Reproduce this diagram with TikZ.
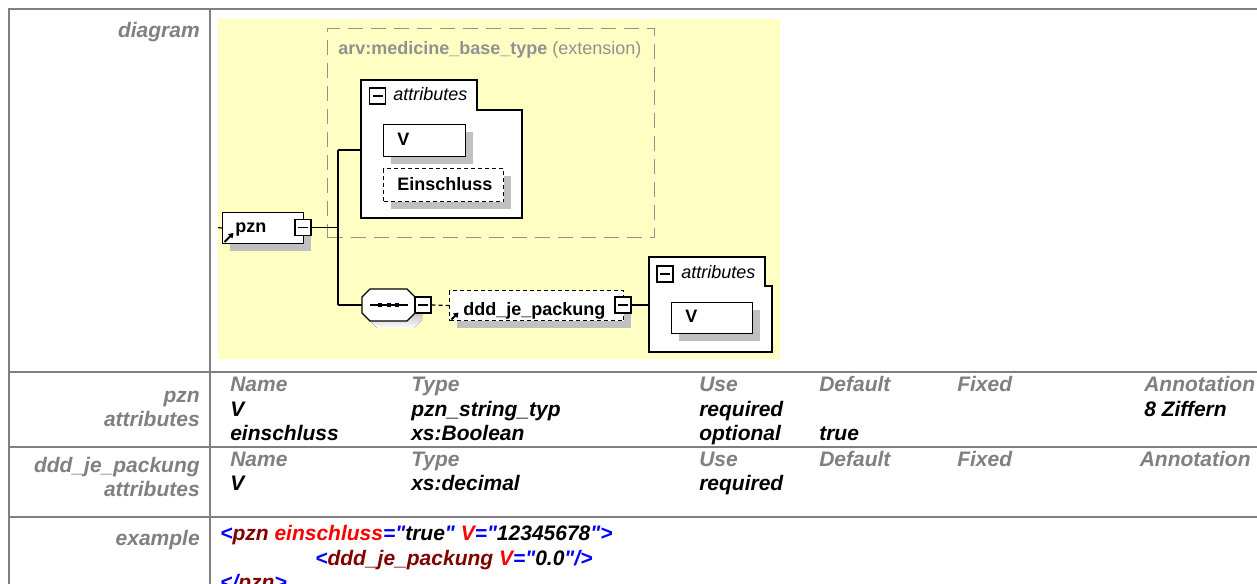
\documentclass[tikz,border=0pt]{standalone}
\usepackage{fontspec}
\setmainfont{Liberation Sans}[Ligatures=TeXOff]
\usetikzlibrary{shadows,arrows.meta}

\definecolor{rulegray}{RGB}{128,128,128}
\definecolor{headgray}{RGB}{128,128,128}
\definecolor{canvas}{RGB}{255,255,196}
\definecolor{shade}{RGB}{192,192,192}
\definecolor{extgray}{RGB}{145,145,145}
\definecolor{xmlbracket}{RGB}{0,0,255}
\definecolor{xmlelem}{RGB}{128,0,0}
\definecolor{xmlattr}{RGB}{255,0,0}

\newcommand{\xbr}[1]{\textcolor{xmlbracket}{#1}}
\newcommand{\xel}[1]{\textcolor{xmlelem}{#1}}
\newcommand{\xat}[1]{\textcolor{xmlattr}{#1}}

\begin{document}
\begin{tikzpicture}[x=0.75pt,y=-0.75pt,
  rowline/.style={draw=rulegray,line width=1.5pt},
  tfont/.style={font=\fontsize{15.75}{18}\selectfont\bfseries\itshape, inner sep=0},
  lbl/.style={tfont, text=headgray, anchor=base east},
  head/.style={tfont, text=headgray, anchor=base west},
  val/.style={tfont, text=black, anchor=base west},
  dtext/.style={font=\fontsize{13.5}{16}\selectfont, inner sep=0, anchor=base west},
  dname/.style={font=\fontsize{13.5}{16}\selectfont\bfseries, inner sep=0, anchor=base west},
  elem/.style={draw=black, line width=0.9pt, fill=white, inner sep=0, anchor=north west,
    general shadow={fill=shade, shadow xshift=7*.75pt, shadow yshift=-7*.75pt}},
  optelem/.style={elem, dash pattern=on 3pt off 2.25pt},
  attbox/.style={draw=black, line width=0.9pt, fill=white},
  tog/.style={draw=black, line width=0.9pt, fill=white, minimum size=16*.75pt, inner sep=0,
    path picture={\draw[line width=0.9pt] ([xshift=3*.75pt]path picture bounding box.west)
      -- ([xshift=-3*.75pt]path picture bounding box.east);}},
  conn/.style={draw=black, line width=0.9pt},
  refarrow/.style={line width=1.4pt, -{Triangle[length=3.5pt,width=4.5pt]}}
]
\path[use as bounding box] (0,0) rectangle (1257,584);
\clip (0,0) rectangle (1257,584);
\fill[white] (0,0) rectangle (1257,584);

% diagram canvas
\fill[canvas] (218,19) rectangle (780,359);

% table rules
\draw[rowline] (8,9) -- (1257,9);
\draw[rowline] (9,8) -- (9,584);
\draw[rowline] (210,8) -- (210,584);
\draw[rowline] (8,372) -- (1257,372);
\draw[rowline] (8,447) -- (1257,447);
\draw[rowline] (8,517) -- (1257,517);

% row labels
\node[lbl] (ldiagram) at (200,38) {diagram};
\node[lbl] (lpzn) at (200,403) {pzn};
\node[lbl] (lpznatt) at (200,427) {attributes};
\node[lbl] (lddd) at (200,473) {ddd\_je\_packung};
\node[lbl] (ldddatt) at (200,497) {attributes};
\node[lbl] (lexample) at (200,546) {example};

% extension group
\node[draw=extgray, line width=0.9pt, dash pattern=on 11.25pt off 6pt,
  minimum width=327*.75pt, minimum height=209*.75pt, anchor=north west, inner sep=0] (ext) at (327,28) {};
\node[dtext, text=extgray] (exttitle) at (338,55) {\bfseries arv:medicine\_base\_type\mdseries\ (extension)};

% attributes of the base type
\draw[attbox] (361,80) -- (477,80) -- (477,110) -- (522,110) -- (522,218) -- (361,218) -- cycle;
\node[inner sep=0, minimum width=161*.75pt, minimum height=140*.75pt, anchor=north west] (att1) at (361,80) {};
\node[tog] (att1t) at (377.5,96) {};
\node[dtext] (att1lbl) at (393,101) {\itshape attributes};
\node[elem, minimum width=82*.75pt, minimum height=32*.75pt] (v1) at (383,124) {};
\node[dname] (v1lbl) at (397,146) {V};
\node[optelem, minimum width=120*.75pt, minimum height=33*.75pt] (ein) at (383,168) {};
\node[dname] (einlbl) at (397,191) {Einschluss};

% pzn element
\coordinate (pznin) at (218,227.5);
\node[elem, minimum width=81*.75pt, minimum height=31*.75pt] (pzn) at (222,212) {};
\node[dname] (pznlbl) at (235,233) {pzn};
\draw[refarrow] (224.5,242) -- (233.5,233);
\node[tog] (pznt) at (303,227.5) {};
\draw[conn] (pznin) -- (pzn.west);

% sequence compositor (octagon with shadow)
\fill[shade] (369,304) -- (377,296) -- (414,296) -- (422,304) -- (422,320) -- (414,328) -- (377,328) -- (369,320) -- cycle;
\draw[line width=0.9pt, fill=white] (362,297) -- (370,289) -- (407,289) -- (415,297) -- (415,313) -- (407,321) -- (370,321) -- (362,313) -- cycle;
\node[inner sep=0, minimum width=53*.75pt, minimum height=32*.75pt] (seq) at (388.5,305) {};
\draw[line width=0.9pt] (370,305) -- (408,305);
\foreach \dx in {380,388.5,397}
  \fill (\dx-2,303) rectangle (\dx+2,307);
\node[tog] (seqt) at (423,305) {};

% connectors from pzn
\coordinate (jt) at (338,150);
\coordinate (jb) at (338,305);
\draw[conn] (pznt.east) -- (pznt.east -| jt);
\draw[conn] (jt) -- (jb);
\draw[conn] (jt) -- (jt -| att1.west);
\draw[conn] (jb) -- (seq.west);

% ddd_je_packung element
\node[optelem, minimum width=174*.75pt, minimum height=30*.75pt] (ddd) at (449,290) {};
\node[dname] (dddlbl) at (463,316) {ddd\_je\_packung};
\draw[refarrow] (451.5,319.5) -- (458.5,312.5);
\node[tog] (dddt) at (623,305) {};
\draw[conn, dash pattern=on 3pt off 2.25pt] (seqt.east) -- (ddd.west);

% attributes of ddd_je_packung
\draw[attbox] (649,257) -- (765,257) -- (765,286) -- (772,286) -- (772,352) -- (649,352) -- cycle;
\node[inner sep=0, minimum width=123*.75pt, minimum height=96*.75pt, anchor=north west] (att2) at (649,257) {};
\node[tog] (att2t) at (665,274) {};
\node[dtext] (att2lbl) at (681,279) {\itshape attributes};
\node[elem, minimum width=81*.75pt, minimum height=31*.75pt] (v2) at (671,302) {};
\node[dname] (v2lbl) at (685,323) {V};
\draw[conn] (dddt.east) -- (dddt.east -| att2.west);

% pzn attributes table
\node[head] (h1n) at (230,392) {Name};
\node[head] (h1t) at (411,392) {Type};
\node[head] (h1u) at (699,392) {Use};
\node[head] (h1d) at (819,392) {Default};
\node[head] (h1f) at (957,392) {Fixed};
\node[head] (h1a) at (1144,392) {Annotation};
\node[val] (r1n) at (230,417) {V};
\node[val] (r1t) at (411,417) {pzn\_string\_typ};
\node[val] (r1u) at (699,417) {required};
\node[val] (r1a) at (1144,417) {8 Ziffern};
\node[val] (r2n) at (230,441) {einschluss};
\node[val] (r2t) at (411,441) {xs:Boolean};
\node[val] (r2u) at (699,441) {optional};
\node[val] (r2d) at (819,441) {true};

% ddd_je_packung attributes table
\node[head] (h2n) at (230,467) {Name};
\node[head] (h2t) at (411,467) {Type};
\node[head] (h2u) at (699,467) {Use};
\node[head] (h2d) at (819,467) {Default};
\node[head] (h2f) at (957,467) {Fixed};
\node[head] (h2a) at (1139.5,467) {Annotation};
\node[val] (r3n) at (230,491) {V};
\node[val] (r3t) at (411,491) {xs:decimal};
\node[val] (r3u) at (699,491) {required};

% example
\node[val] (x1) at (220,541) {\xbr{<}\xel{pzn} \xat{einschluss}\xbr{="}true\xbr{"} \xat{V}\xbr{="}12345678\xbr{">}};
\node[val] (x2) at (315,565) {\xbr{<}\xel{ddd\_je\_packung} \xat{V}\xbr{="}0.0\xbr{"/>}};
\node[val] (x3) at (220,589) {\xbr{</}\xel{pzn}\xbr{>}};
\end{tikzpicture}
\end{document}
